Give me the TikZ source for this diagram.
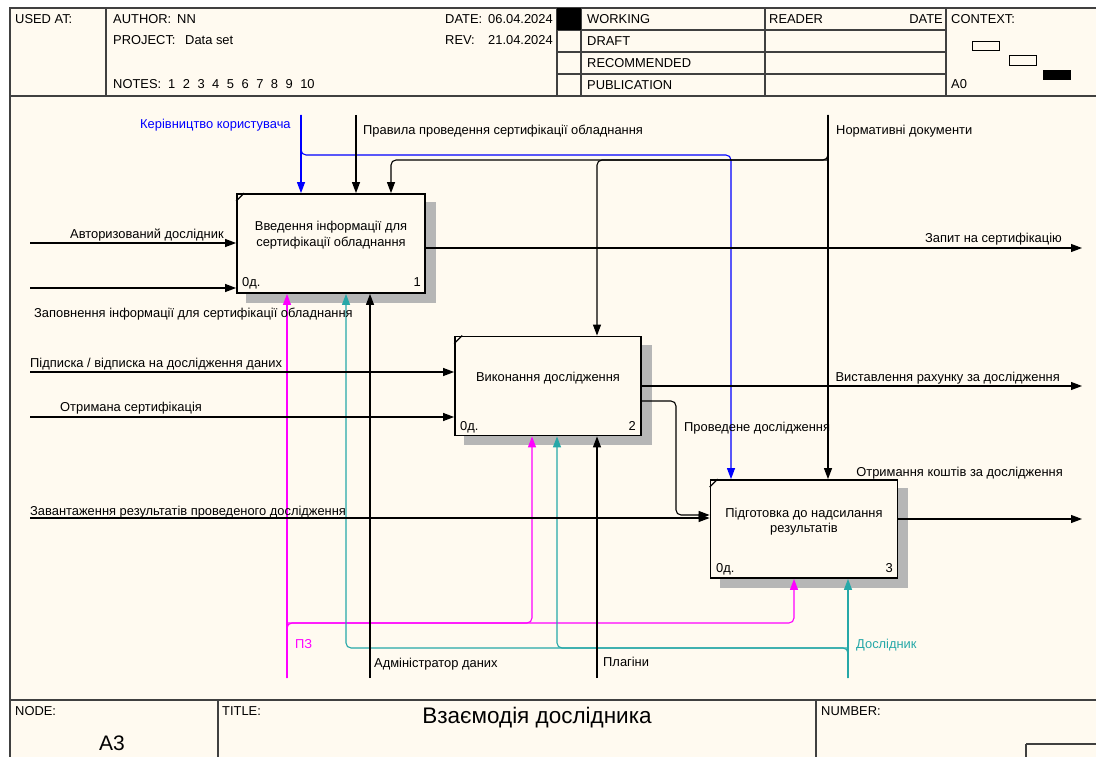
\documentclass[tikz,border=0pt]{standalone}
\usepackage{fontspec}
\setmainfont{Liberation Sans}
\usetikzlibrary{arrows.meta}
\definecolor{cream}{RGB}{255,250,240}
\definecolor{tealc}{RGB}{38,168,168}
\definecolor{magc}{RGB}{255,0,255}
\definecolor{bluec}{RGB}{0,0,255}
\definecolor{shade}{RGB}{182,182,182}
\definecolor{framec}{RGB}{64,64,64}
\pgfdeclarelayer{bg}
\pgfsetlayers{bg,main}
\begin{document}
\begin{tikzpicture}[x=1pt,y=-1pt,
  txt/.style={font=\fontsize{12.9}{15.5}\selectfont, inner sep=0pt},
  conn/.style={line width=1.1pt, line join=round},
  arr/.style={conn, -{Triangle[length=11pt,width=8pt]}},
  rc/.style={rounded corners=5pt},
  box/.style={draw, line width=1.8pt, fill=cream, inner sep=0pt},
  frame/.style={draw=framec, line width=1.3pt},
  shadowbox/.style={fill=shade}]
\useasboundingbox (0,0) rectangle (1096,757);
\clip (0,0) rectangle (1096,757);
\begin{pgfonlayer}{bg}
\fill[white] (0,0) rectangle (1096,757);
\fill[cream] (10,8) rectangle (1100,760);
\end{pgfonlayer}
% frame and header
\draw[frame] (10,770) -- (10,8) -- (1100,8);
\draw[frame] (10,96) -- (1100,96);
\draw[frame] (106,8) -- (106,96);
\draw[frame] (557,8) -- (557,96);
\draw[frame] (581,8) -- (581,96);
\draw[frame] (765,8) -- (765,96);
\draw[frame] (946,8) -- (946,96);
\draw[frame] (557,30) -- (946,30);
\draw[frame] (557,52) -- (946,52);
\draw[frame] (557,74) -- (946,74);
\fill (557,8) rectangle (581,30);
\node[txt, anchor=base west] (usedat) at (15,23.5) {USED AT:};
\node[txt, anchor=base west] (author) at (113,23.5) {AUTHOR:};
\node[txt, anchor=base west] (authorv) at (177,23.5) {NN};
\node[txt, anchor=base west] (project) at (113,44.5) {PROJECT:};
\node[txt, anchor=base west] (projectv) at (185,44.5) {Data set};
\node[txt, anchor=base west] (notes) at (113,88.5) {NOTES:\hspace{7pt}1\hspace{7.5pt}2\hspace{7.5pt}3\hspace{7.5pt}4\hspace{7.5pt}5\hspace{7.5pt}6\hspace{7.5pt}7\hspace{7.5pt}8\hspace{7.5pt}9\hspace{7.5pt}10};
\node[txt, anchor=base west] (date) at (445,23.5) {DATE:};
\node[txt, anchor=base west] (datev) at (488,23.5) {06.04.2024};
\node[txt, anchor=base west] (rev) at (445,44.5) {REV:};
\node[txt, anchor=base west] (revv) at (488,44.5) {21.04.2024};
\node[txt, anchor=base west] (working) at (587,23.5) {WORKING};
\node[txt, anchor=base west] (draft) at (587,45.5) {DRAFT};
\node[txt, anchor=base west] (recom) at (587,67.5) {RECOMMENDED};
\node[txt, anchor=base west] (publ) at (587,89.5) {PUBLICATION};
\node[txt, anchor=base west] (reader) at (769,23.5) {READER};
\node[txt, anchor=base east] (rdate) at (943,23.5) {DATE};
\node[txt, anchor=base west] (context) at (951,23.5) {CONTEXT:};
\node[txt, anchor=base west] (a0) at (951,89) {A0};
\draw[line width=1pt] (972,41.5) rectangle (999,50.5);
\draw[line width=1pt] (1009,56) rectangle (1036,65.5);
\fill (1043,70) rectangle (1071,80);
% boxes
\node[box, minimum width=188pt, minimum height=99pt] (b1) at (331,243.5) {};
\node[box, minimum width=186pt, minimum height=99pt] (b2) at (548,386) {};
\node[box, minimum width=187pt, minimum height=98pt] (b3) at (804,529) {};
\begin{pgfonlayer}{bg}
\foreach \b in {b1,b2,b3}
  \fill[shadowbox] ([shift={(10,9)}]\b.north west) rectangle ([shift={(10,9)}]\b.south east);
\end{pgfonlayer}
\foreach \b in {b1,b2,b3}
  \draw[line width=1.2pt] ([yshift=-8pt]\b.north west) -- ([xshift=8pt]\b.north west);
\node[txt, align=center] (t1) at (331,235) {Введення інформації для\\сертифікації обладнання};
\node[txt] (t2) at (548,378) {Виконання дослідження};
\node[txt, align=center] (t3) at (804,521.5) {Підготовка до надсилання\\результатів};
\node[txt, anchor=base west] (n1a) at (242,286) {0д.};
\node[txt, anchor=base east] (n1b) at (421,286) {1};
\node[txt, anchor=base west] (n2a) at (460,430) {0д.};
\node[txt, anchor=base east] (n2b) at (636,430) {2};
\node[txt, anchor=base west] (n3a) at (716,572) {0д.};
\node[txt, anchor=base east] (n3b) at (893,572) {3};
% controls
\coordinate (kerT) at (301,115);
\coordinate (kerJ) at (301,155);
\coordinate (kerR) at (731,155);
\draw[arr, bluec] (kerT) -- (kerT |- b1.north);
\draw[arr, bluec, rc] (kerT) -- (kerJ) -- (kerR) -- (kerR |- b3.north);
\coordinate (pravT) at (356,115);
\draw[arr] (pravT) -- (pravT |- b1.north);
\coordinate (normT) at (828,115);
\coordinate (normJ) at (828,160);
\coordinate (normL) at (391,160);
\coordinate (normM) at (597,160);
\draw[arr] (normT) -- (normT |- b3.north);
\draw[arr, rc] (normT) -- (normJ) -- (normL) -- (normL |- b1.north);
\draw[arr, rc] (normJ) -- (normM) -- (normM |- b2.north);
% mechanisms
\coordinate (pzB) at (287,678);
\coordinate (pzJ) at (287,623);
\coordinate (pzR) at (794,623);
\coordinate (pzM) at (532,623);
\draw[arr, magc] (pzB) -- (pzB |- b1.south);
\draw[arr, magc, rc] (pzB) -- (pzJ) -- (pzR) -- (pzR |- b3.south);
\draw[arr, magc, rc] (pzJ) -- (pzM) -- (pzM |- b2.south);
\coordinate (dsB) at (848,678);
\coordinate (dsJ) at (848,648);
\coordinate (dsL) at (346,648);
\coordinate (dsM) at (557,648);
\draw[arr, tealc] (dsB) -- (dsB |- b3.south);
\draw[arr, tealc, rc] (dsB) -- (dsJ) -- (dsL) -- (dsL |- b1.south);
\draw[arr, tealc, rc] (dsJ) -- (dsM) -- (dsM |- b2.south);
\coordinate (adB) at (370,678);
\draw[arr] (adB) -- (adB |- b1.south);
\coordinate (plB) at (597,678);
\draw[arr] (plB) -- (plB |- b2.south);
% inputs
\coordinate (i1) at (30,243);
\coordinate (i2) at (30,288);
\coordinate (i3) at (30,372);
\coordinate (i4) at (30,417);
\coordinate (i5) at (30,518);
\draw[arr] (i1) -- (i1 -| b1.west);
\draw[arr] (i2) -- (i2 -| b1.west);
\draw[arr] (i3) -- (i3 -| b2.west);
\draw[arr] (i4) -- (i4 -| b2.west);
\draw[arr] (i5) -- (i5 -| b3.west);
% outputs
\coordinate (o1) at (1082,248);
\coordinate (o2) at (1082,386);
\coordinate (o3) at (1082,519);
\draw[arr] (o1 -| b1.east) -- (o1);
\draw[arr] (o2 -| b2.east) -- (o2);
\draw[arr] (o3 -| b3.east) -- (o3);
\coordinate (pdJ) at (676,401);
\coordinate (pdK) at (676,515);
\draw[arr, rc] (pdJ -| b2.east) -- (pdJ) -- (pdK) -- (pdK -| b3.west);
% labels
\node[txt, anchor=base west, text=bluec] (lker) at (140,128.5) {Керівництво користувача};
\node[txt, anchor=base west] (lprav) at (363,135) {Правила проведення сертифікації обладнання};
\node[txt, anchor=base west] (lnorm) at (836,135) {Нормативні документи};
\node[txt, anchor=base west] (lavt) at (70,239) {Авторизований дослідник};
\node[txt, anchor=base west] (lzap) at (34,317.5) {Заповнення інформації для сертифікації обладнання};
\node[txt, anchor=base east] (lzapyt) at (1062,242.5) {Запит на сертифікацію};
\node[txt, anchor=base west] (lpid) at (30,367.5) {Підписка / відписка на дослідження даних};
\node[txt, anchor=base west] (lotr) at (60,411.5) {Отримана сертифікація};
\node[txt, anchor=base west] (lzav) at (30,515) {Завантаження результатів проведеного дослідження};
\node[txt, anchor=base east] (lvys) at (1060,381) {Виставлення рахунку за дослідження};
\node[txt, anchor=base west] (lprov) at (684,431) {Проведене дослідження};
\node[txt, anchor=base east] (lkosh) at (1063,476) {Отримання коштів за дослідження};
\node[txt, anchor=base west, text=magc] (lpz) at (295,648) {ПЗ};
\node[txt, anchor=base west, text=tealc] (ldos) at (856,648) {Дослідник};
\node[txt, anchor=base west] (ladm) at (374,667) {Адміністратор даних};
\node[txt, anchor=base west] (lpl) at (603,666) {Плагіни};
% footer
\draw[frame] (10,700) -- (1100,700);
\draw[frame] (218,700) -- (218,770);
\draw[frame] (816,700) -- (816,770);
\draw[frame] (1026,744) -- (1026,770);
\draw[frame] (1026,744) -- (1100,744);
\node[txt, anchor=base west] (fnode) at (15,715) {NODE:};
\node[txt, anchor=base west] (ftitle) at (222,715) {TITLE:};
\node[txt, anchor=base west] (fnum) at (821,715) {NUMBER:};
\node[inner sep=0pt, font=\fontsize{21}{24}\selectfont] (fa3) at (112,743) {A3};
\node[inner sep=0pt, font=\fontsize{22.5}{26}\selectfont] (ftt) at (537,718) {Взаємодія дослідника};
\end{tikzpicture}
\end{document}
